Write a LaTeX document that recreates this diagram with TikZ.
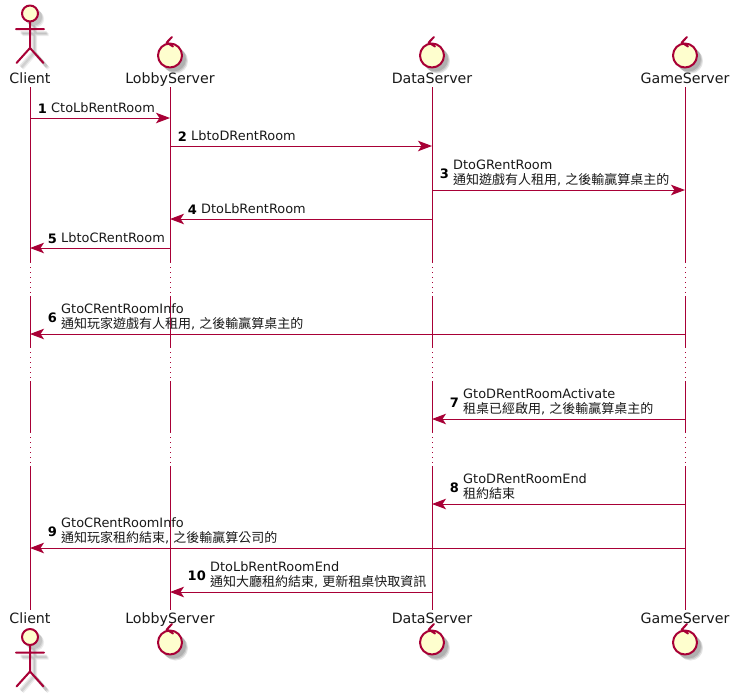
\documentclass[tikz,border=0pt]{standalone}
\usepackage{fontspec}
\setmainfont{DejaVu Sans}
\newfontfamily\cjk[Scale=1.008]{Noto Sans CJK TC}
\usetikzlibrary{arrows.meta}
\definecolor{pumlred}{HTML}{A80036}
\definecolor{pumlfill}{HTML}{FEFECE}
\tikzset{
  x=1pt,y=-1pt,
  lifeline/.style={draw=pumlred,line width=1pt},
  hiddenline/.style={draw=pumlred,line width=1pt,dash pattern=on 1pt off 4pt},
  msgarrow/.style={draw=pumlred,line width=1pt,-{Stealth[length=14pt,width=10.5pt,inset=3.5pt,fill=pumlred]}},
  partname/.style={font=\fontsize{14.2}{16}\selectfont,text=black!90,inner sep=0pt,anchor=base},
  msgnum/.style={font=\fontsize{13}{15}\selectfont\bfseries,inner sep=0pt,anchor=base east},
  msgtext/.style={font=\fontsize{12.9}{15}\selectfont,inner sep=0pt,anchor=south west,align=left,text=black!90},
  figline/.style={draw=pumlred,line width=2pt,line cap=round,line join=round},
}
% baseline strut so the last line's baseline stays 5px above the arrow
\newcommand{\bl}{\rule[-4pt]{0pt}{4pt}}
% \msgline{id}{from}{to}{y}{text x}{number}{number y offset}{text}
\newcommand{\msgline}[8]{%
  \draw[msgarrow] (#2 |- 0,#4) -- (#3 |- 0,#4);
  \node[msgnum] (n#1) at (#5-4,#4-#7) {#6};
  \node[msgtext] (t#1) at (#5,#4-1) {#8\bl};
}
% actor figure: x, head y
\newcommand{\actorfig}[2]{%
  \foreach \o/\w in {5.5/0.07,4.5/0.09,3.5/0.09}{
    \fill[black,opacity=\w] (#1+\o,#2+\o) circle (8.6);
    \draw[black,opacity=\w,line width=3pt] (#1-13+\o,#2+15.5+\o) -- (#1+13+\o,#2+15.5+\o)
      (#1+\o,#2+8+\o) -- (#1+\o,#2+34.5+\o) -- (#1-13+\o,#2+49.5+\o)
      (#1+\o,#2+34.5+\o) -- (#1+13+\o,#2+49.5+\o);
  }
  \draw[figline,fill=pumlfill] (#1,#2) circle (8);
  \draw[figline] (#1-14,#2+15.5) -- (#1+14,#2+15.5)
    (#1,#2+8) -- (#1,#2+34.5) -- (#1-13.5,#2+49.5)
    (#1,#2+34.5) -- (#1+13.5,#2+49.5);
}
% control figure: x, centre y
\newcommand{\controlfig}[2]{%
  \foreach \o/\w in {5.5/0.1,4.5/0.12,3.5/0.12}{
    \fill[black,opacity=\w] (#1+\o,#2+\o) circle (12.5);
  }
  \draw[figline,fill=pumlfill] (#1,#2) circle (12);
  \draw[figline] (#1+2,#2-18.5) -- (#1-3.3,#2-13) -- (#1+3,#2-9);
}
\begin{document}
\begin{tikzpicture}
\useasboundingbox (0,0) rectangle (736,697);
\fill[white] (0,0) rectangle (736,697);
% participant names
\node[partname] (cT) at (30,83) {Client};
\node[partname] (lT) at (170,83) {LobbyServer};
\node[partname] (dT) at (432,83) {DataServer};
\node[partname] (gT) at (685,83) {GameServer};
\node[partname] (cB) at (30,623) {Client};
\node[partname] (lB) at (170,623) {LobbyServer};
\node[partname] (dB) at (432,623) {DataServer};
\node[partname] (gB) at (685,623) {GameServer};
% lifelines
\foreach \p/\q in {cT/cB,lT/lB,dT/dB,gT/gB}{
  \draw[lifeline] (\p |- 0,87) -- (\p |- 0,262);
  \draw[hiddenline] (\p |- 0,262) -- (\p |- 0,296);
  \draw[lifeline] (\p |- 0,296) -- (\p |- 0,347);
  \draw[hiddenline] (\p |- 0,347) -- (\p |- 0,381);
  \draw[lifeline] (\p |- 0,381) -- (\p |- 0,432);
  \draw[hiddenline] (\p |- 0,432) -- (\p |- 0,466);
  \draw[lifeline] (\p |- 0,466) -- (\q |- 0,610);
}
% figures
\actorfig{30}{13.5}
\actorfig{30}{637}
\controlfig{170}{55.5}
\controlfig{432}{55.5}
\controlfig{685}{55.5}
\controlfig{170}{642.5}
\controlfig{432}{642.5}
\controlfig{685}{642.5}
% messages
\msgline{1}{cT}{lT}{118}{51}{1}{5}{CtoLbRentRoom}
\msgline{2}{lT}{dT}{146}{191}{2}{5}{LbtoDRentRoom}
\msgline{3}{dT}{gT}{190}{453}{3}{12}{DtoGRentRoom\\{\cjk 通知遊戲有人租用}, {\cjk 之後輸贏算桌主的}}
\msgline{4}{dT}{lT}{219}{201}{4}{5}{DtoLbRentRoom}
\msgline{5}{lT}{cT}{248}{61}{5}{5}{LbtoCRentRoom}
\msgline{6}{gT}{cT}{334}{61}{6}{12}{GtoCRentRoomInfo\\{\cjk 通知玩家遊戲有人租用}, {\cjk 之後輸贏算桌主的}}
\msgline{7}{gT}{dT}{419}{463}{7}{12}{GtoDRentRoomActivate\\{\cjk 租桌已經啟用}, {\cjk 之後輸贏算桌主的}}
\msgline{8}{gT}{dT}{504}{463}{8}{12}{GtoDRentRoomEnd\\{\cjk 租約結束}}
\msgline{9}{gT}{cT}{548}{61}{9}{12}{GtoCRentRoomInfo\\{\cjk 通知玩家租約結束}, {\cjk 之後輸贏算公司的}}
\msgline{10}{dT}{lT}{592}{210}{10}{12}{DtoLbRentRoomEnd\\{\cjk 通知大廳租約結束}, {\cjk 更新租桌快取資訊}}
\end{tikzpicture}
\end{document}
